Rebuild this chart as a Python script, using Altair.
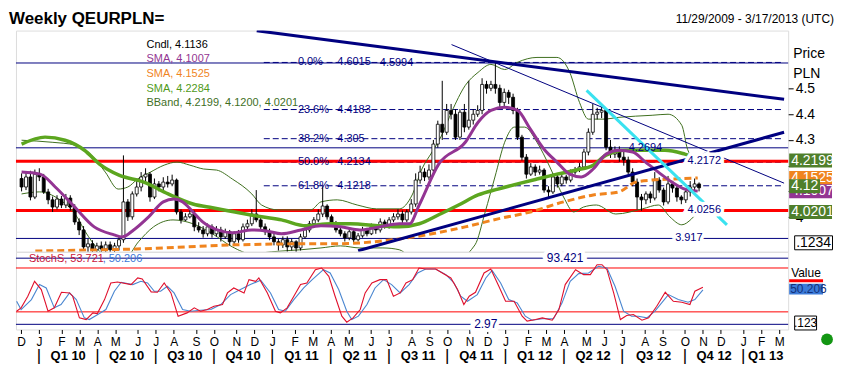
import altair as alt
import numpy as np
import pandas as pd

# ------------------------------------------------------------------ data
START = "2009-11-29"   # first weekly candle
END = "2013-03-17"

CLOSE = [4.117,4.156,4.078,4.167,4.156,4.098,4.067,4.039,4.070,4.047,
         4.074,4.039,3.981,3.950,3.884,3.896,3.873,3.888,3.876,3.892,
         3.873,3.888,3.912,4.059,4.001,4.090,4.117,4.156,4.167,4.078,
         4.129,4.117,4.136,4.129,4.144,4.020,3.989,4.001,4.012,3.962,
         3.950,3.935,3.962,3.935,3.950,3.923,3.943,3.904,3.935,3.912,
         3.962,3.974,4.012,3.989,3.962,3.943,3.923,3.904,3.892,3.912,
         3.884,3.904,3.880,3.923,3.950,3.974,3.989,4.012,4.043,4.001,
         3.974,3.950,3.935,3.919,3.943,3.912,3.927,3.950,3.935,3.962,
         3.950,3.981,3.966,3.989,4.001,4.012,3.989,4.020,4.051,4.144,
         4.175,4.156,4.183,4.284,4.361,4.330,4.415,4.400,4.311,4.408,
         4.350,4.377,4.400,4.415,4.516,4.501,4.516,4.501,4.446,4.485,
         4.466,4.415,4.311,4.233,4.167,4.195,4.175,4.183,4.105,4.098,
         4.156,4.129,4.156,4.144,4.175,4.183,4.195,4.253,4.330,4.400,
         4.408,4.415,4.272,4.245,4.260,4.233,4.222,4.175,4.136,4.078,
         4.067,4.090,4.074,4.144,4.105,4.059,4.129,4.113,4.078,4.067,
         4.098,4.117,4.129,4.114]
OPEN = [4.150,4.117,4.156,4.078,4.167,4.156,4.098,4.067,4.039,4.070,
        4.047,4.074,4.039,3.981,3.950,3.884,3.896,3.873,3.888,3.876,
        3.892,3.873,3.888,3.912,4.059,4.001,4.090,4.117,4.156,4.167,
        4.078,4.129,4.117,4.136,4.129,4.144,4.020,3.989,4.001,4.012,
        3.962,3.950,3.935,3.962,3.935,3.950,3.923,3.943,3.904,3.935,
        3.912,3.962,3.974,4.012,3.989,3.962,3.943,3.923,3.904,3.892,
        3.912,3.884,3.904,3.880,3.923,3.950,3.974,3.989,4.012,4.043,
        4.001,3.974,3.950,3.935,3.919,3.943,3.912,3.927,3.950,3.935,
        3.962,3.950,3.981,3.966,3.989,4.001,4.012,3.989,4.020,4.051,
        4.144,4.175,4.156,4.183,4.284,4.361,4.330,4.415,4.400,4.311,
        4.408,4.350,4.377,4.400,4.415,4.516,4.501,4.516,4.501,4.446,
        4.485,4.466,4.415,4.311,4.233,4.167,4.195,4.175,4.183,4.105,
        4.098,4.156,4.129,4.156,4.144,4.175,4.183,4.195,4.253,4.330,
        4.400,4.408,4.415,4.272,4.245,4.260,4.233,4.222,4.175,4.136,
        4.078,4.067,4.090,4.074,4.144,4.105,4.059,4.129,4.113,4.078,
        4.067,4.098,4.117,4.129]
HIGH = [4.170,4.175,4.180,4.185,4.190,4.168,4.110,4.080,4.085,4.082,
        4.090,4.085,4.050,3.995,3.965,3.915,3.910,3.900,3.905,3.905,
        3.905,3.900,3.925,4.240,4.070,4.100,4.150,4.175,4.190,4.175,
        4.150,4.140,4.155,4.160,4.165,4.150,4.030,4.015,4.030,4.025,
        3.980,3.965,3.975,3.972,3.965,3.962,3.955,3.950,3.945,3.950,
        3.975,3.990,4.030,4.105,4.000,3.975,3.955,3.935,3.915,3.925,
        3.925,3.915,3.910,3.935,3.960,3.985,4.000,4.030,4.120,4.050,
        4.010,3.985,3.962,3.945,3.955,3.950,3.938,3.962,3.958,3.975,
        3.972,3.995,3.990,4.000,4.015,4.030,4.025,4.030,4.070,4.170,
        4.200,4.190,4.205,4.300,4.375,4.530,4.440,4.440,4.420,4.420,
        4.440,4.530,4.420,4.435,4.540,4.530,4.530,4.605,4.515,4.500,
        4.495,4.480,4.425,4.320,4.245,4.210,4.205,4.200,4.190,4.120,
        4.170,4.165,4.170,4.165,4.185,4.195,4.210,4.265,4.345,4.440,
        4.425,4.430,4.420,4.300,4.275,4.275,4.255,4.235,4.190,4.150,
        4.090,4.100,4.100,4.175,4.155,4.115,4.160,4.140,4.125,4.085,
        4.110,4.140,4.150,4.135]
LOW = [4.100,4.105,4.065,4.070,4.140,4.090,4.050,4.020,4.030,4.035,
       4.035,4.025,3.970,3.930,3.870,3.860,3.850,3.845,3.840,3.845,
       3.835,3.840,3.870,3.900,3.985,3.990,4.080,4.100,4.140,4.060,
       4.070,4.100,4.105,4.115,4.120,4.010,3.975,3.985,3.995,3.945,
       3.940,3.920,3.925,3.920,3.925,3.905,3.915,3.890,3.895,3.900,
       3.905,3.950,3.965,3.980,3.950,3.930,3.910,3.890,3.870,3.880,
       3.865,3.870,3.860,3.870,3.915,3.940,3.960,3.980,4.000,3.990,
       3.965,3.940,3.925,3.905,3.910,3.900,3.905,3.920,3.925,3.930,
       3.935,3.940,3.955,3.955,3.980,3.990,3.975,3.980,4.010,4.040,
       4.130,4.140,4.145,4.175,4.270,4.300,4.320,4.380,4.300,4.300,
       4.330,4.340,4.360,4.390,4.400,4.480,4.490,4.480,4.420,4.430,
       4.440,4.400,4.300,4.220,4.150,4.160,4.160,4.165,4.095,4.070,
       4.090,4.115,4.120,4.130,4.135,4.165,4.175,4.185,4.240,4.320,
       4.380,4.385,4.260,4.230,4.230,4.215,4.200,4.165,4.120,4.030,
       4.025,4.050,4.055,4.065,4.095,4.045,4.050,4.095,4.060,4.050,
       4.055,4.080,4.100,4.100]

# indicator curves (week number, price)
SMA_PURPLE_W = [0,4.2,7.6,12,16.4,20.9,22.7,25.3,28.7,32,34.4,36.4,38.7,40.9,44.2,47.6,52,55.3,58.7,63.1,
                67.6,72,76.4,80.9,85.3,87.6,89.8,94.2,100.2,103.1,106,109.1,112,114.9,118,120.9,123.8,126.4,129.1,132,
                134.9,138,140.9,143.8,146.9,149.8,152.7]
SMA_PURPLE_P = [4.175,4.167,4.117,4.039,3.962,3.931,3.923,3.950,4.001,4.059,4.070,4.059,4.020,3.981,3.950,3.939,3.950,3.946,3.935,3.950,
                3.966,3.962,3.950,3.962,3.974,3.974,4.047,4.206,4.291,4.369,4.415,4.427,4.415,4.342,4.264,4.214,4.167,4.156,4.187,4.245,
                4.260,4.253,4.214,4.175,4.136,4.109,4.101]
SMA_GREEN_W = [0,5.3,9.8,14.2,17.6,22,27.6,33.1,38.7,43.1,48.2,54.2,58.7,64.2,69.8,74.2,80.9,85.3,89.8,94.2,
               98.7,103.1,107.6,112,116.4,120.9,125.3,129.1,132,136.4,140.9,145.3,149.8,152.7]
SMA_GREEN_P = [4.284,4.311,4.299,4.260,4.206,4.163,4.136,4.090,4.051,4.036,4.020,4.001,3.989,3.966,3.974,3.974,3.966,3.962,3.974,4.009,
               4.047,4.086,4.109,4.129,4.148,4.167,4.183,4.202,4.241,4.260,4.260,4.260,4.245,4.229]
SMA_ORANGE_W = [3.1,18.7,26,48.2,63.1,70.4,85.3,92.7,100.2,107.6,114.9,122.4,129.1,134.9,138.7,142.4,146.9,152.7]
SMA_ORANGE_P = [3.868,3.873,3.876,3.892,3.896,3.896,3.915,3.935,3.962,3.993,4.020,4.059,4.086,4.098,4.136,4.144,4.148,4.152]
BB_UP_W = [0,6.9,12.2,15.8,18.9,21.8,24,26.2,29.1,32.2,35.1,38,41.1,44,47.6,52,54.2,58,65.3,67.6,
           71.3,75.8,80.2,85.3,88.2,90.4,92.7,94.9,97.1,100.2,103.1,106,109.1,112,116.4,120.9,123.8,126,128,131.3,
           134.9,142.4,146,149.1,150.4,152.7]
BB_UP_P = [4.299,4.291,4.280,4.241,4.175,4.109,4.117,4.148,4.175,4.202,4.214,4.202,4.187,4.183,4.148,4.090,4.047,4.028,4.028,4.059,
           4.067,4.047,4.032,4.032,4.086,4.187,4.253,4.319,4.408,4.512,4.563,4.594,4.574,4.602,4.621,4.621,4.563,4.446,4.381,4.381,
           4.388,4.396,4.400,4.357,4.264,4.210]
BB_LO_W = [0,4,8.4,12.2,14.4,17.3,19.8,23.1,26.4,29.8,34.2,38.7,43.1,47.6,52,56.4,63.1,67.6,72,76.4,
           81.6,85.3,89.8,96.4,102.4,104.7,106.9,109.1,111.3,113.6,116.4,119.3,122.4,124.7,126.9,129.8,134.2,140.2,143.8,146.4,
           149.1,151.3,152.7]
BB_LO_P = [4.090,4.098,4.070,4.009,3.943,3.873,3.834,3.834,3.904,3.962,3.989,3.974,3.935,3.884,3.857,3.865,3.873,3.880,3.888,3.880,
           3.880,3.873,3.818,3.818,3.892,4.020,4.156,4.291,4.350,4.350,4.291,4.195,4.078,4.020,4.039,4.047,4.012,4.032,4.047,4.001,
           3.970,3.993,4.020]

# slow stochastic (week number, value)
STOCH_K_W = [0,1,2.5,4,5.5,7,8.4,10,11.8,12.5,14,15.5,17,18,19.6,21,22.5,25.5,27,28,
             30,31.4,32.9,34.4,36,38,39.6,41,42.5,44,45.9,47,48.4,50.7,51.8,53.3,54,55.9,57.7,58.8,
             60.3,61.8,63.3,64.7,66.6,68,69.6,71,72.5,73.6,75,76.6,77.7,79.2,81,82.5,84,85.5,86.8,88.3,
             89.7,91.2,93.4,94.9,96.8,98.3,99.7,100.9,102.3,104.2,105.7,107.5,109,110.9,112.7,113.8,115.7,117.2,119.4,120.9,
             122.3,124.6,126.4,127.9,129.4,130.5,131.6,133.1,134.6,136,137.5,139.4,140.9,142.7,144.6,146.4,148.3,150.1,151.2,153]
STOCH_K_V = [20.9,25.5,41.4,61.8,50.5,20.9,25.5,46.8,45.9,41.4,11.8,9.5,18.6,17.7,36.8,59.5,60.9,57.3,66.4,65,
             47.3,46.8,59.5,45.9,14.1,18.6,25.5,20.9,23.2,27.7,30,45.9,52.7,45.9,64.1,61.8,66.4,45.9,20.9,18.6,
             25.5,41.4,57.3,59.5,77.7,80,68.6,41.4,14.1,5.9,11.8,23.2,45.9,59.5,64.1,64.1,41.4,45.9,59.5,64.1,
             80,78.6,78.6,73.2,66.4,50.5,30,41.4,46.8,73.2,78.6,55,34.5,34.5,14.1,7.3,9.5,11.8,8.6,23.2,
             57.3,77.7,70.9,70.9,84.5,84.5,77.7,45.9,9.5,15,16.4,8.6,11.8,27.7,46.8,34.5,33.2,30,48.2,53.7]
STOCH_D_W = [0,1,3.3,5.1,6.6,8.4,9.9,11.8,13.3,15.1,16.2,18.1,19.9,21.8,23.3,25.9,27.7,29.2,30.7,32.1,
             33.6,35.1,37,38.8,41,43.3,45.5,47.7,49.9,52.1,54.4,56.6,58.4,59.9,61.8,64,65.9,68.4,69.9,71.8,
             73.6,74.7,76.2,78.1,79.9,81.8,83.6,85.5,87.5,89.4,91.2,93.4,95.7,97.5,99,100.5,102.7,104.6,106,107.9,
             109.7,111.6,113.4,114.9,117.2,119.7,121.6,123.4,125.3,127.5,129.7,131.6,133.4,135.3,137.1,138.6,140.5,142.3,145.3,147.5,
             149.7,151.2,153]
STOCH_D_V = [34.5,23.2,36.8,57.3,52.7,25.5,30,45.9,36.8,11.8,9.5,16.4,23.2,48.2,60.5,57.3,61.8,59.5,48.2,48.2,
             55,45.9,23.2,20.9,22.3,23.2,30,43.6,50.5,57.3,63.2,45.9,23.2,20.9,36.8,52.7,64.1,77.7,73.2,50.5,
             20.9,9.5,14.1,30,52.7,64.1,57.3,45.9,57.3,73.2,78.6,78.6,70.9,59.5,41.4,34.5,43.6,66.4,76.8,59.5,
             36.8,32.3,14.1,8.6,10.5,10.5,32.3,61.8,72.3,73.2,82.3,80,55,20.9,14.1,14.1,11.8,20.9,43.6,36.8,
             33.2,36.8,50.2]

# annotations
FIB_PCT = ["0.0%", "23.6%", "38.2%", "50.0%", "61.8%"]
FIB_LEVEL = [4.6015, 4.4183, 4.305, 4.2134, 4.1218]
FIB_START_W = 54.7
NAVY_LEVELS = [4.5994, 4.2694, 3.917]
RED_LEVELS = [4.2172, 4.0256]
STOCH_NAVY = [93.421, 2.97]
STOCH_RED = [80, 20]
TREND_W0 = [53.1, 97.1, 76.0, 127.6]
TREND_P0 = [4.725, 4.671, 3.869, 4.493]
TREND_W1 = [172.2, 172.2, 172.2, 159.3]
TREND_P1 = [4.458, 4.132, 4.330, 3.970]
LEGEND_TEXT = ["Cndl, 4.1136", "SMA, 4.1007", "SMA, 4.1525", "SMA, 4.2284",
               "BBand, 4.2199, 4.1200, 4.0201"]
QUARTERS = ["Q1 10", "Q2 10", "Q3 10", "Q4 10", "Q1 11", "Q2 11", "Q3 11",
            "Q4 11", "Q1 12", "Q2 12", "Q3 12", "Q4 12", "Q1 13"]

# ------------------------------------------------------------------ styles
FONT = "Liberation Sans"
NAVY = "#000080"
RED = "#ff0000"
PURPLE = "#933593"
GREEN = "#5ca61f"
ORANGE = "#f0841e"
BBC = "#3f6f1f"
CYAN = "#3ae2f0"
TAGGREEN = "#4f7f2b"
W, H1, H2 = 775, 222, 78

t0 = pd.Timestamp(START)


def wd(w):
    return t0 + pd.to_timedelta(np.asarray(w, dtype=float) * 7, unit="D")


xscale = alt.Scale(domain=[alt.DateTime(year=2009, month=11, date=28),
                           alt.DateTime(year=2013, month=3, date=17)])
yscale = alt.Scale(domain=[3.8651, 4.7255], zero=False, nice=False)
# 4.1 and 4.2 labels sit fully behind the value tags, so they are left blank
yaxis = alt.Axis(orient="right", values=[4.0, 4.1, 4.2, 4.3, 4.4, 4.5],
                 labelExpr="datum.value == 4 ? '4' : (datum.value > 4.25 ? format(datum.value, '.1f') : '')",
                 grid=False, domain=False, tickSize=5, tickColor="black",
                 labelColor="black", labelFontSize=14, labelFont=FONT,
                 labelPadding=2, title=None)


def X(f="date"):
    return alt.X(f"{f}:T", scale=xscale, axis=None)


def Y(f):
    return alt.Y(f"{f}:Q", scale=yscale, axis=yaxis)


def txt(t, x, y, **kw):
    kw.setdefault("font", FONT)
    return alt.Chart(pd.DataFrame({"t": [t]})).mark_text(**kw).encode(
        x=alt.value(x), y=alt.value(y), text="t:N")


def rect_path(w, h):
    r = h / w
    return f"M-1,-{r:.4f}L1,-{r:.4f}L1,{r:.4f}L-1,{r:.4f}Z"


def line(Wk, P, **kw):
    df = pd.DataFrame({"date": wd(Wk), "p": P})
    return alt.Chart(df).mark_line(clip=True, **kw).encode(x=X(), y=Y("p"))


cdf = pd.DataFrame({"date": wd(range(len(CLOSE))), "open": OPEN, "high": HIGH,
                    "low": LOW, "close": CLOSE})
end_ts = pd.Timestamp(END)

L = []
# horizontal levels
L.append(alt.Chart(pd.DataFrame({"p": NAVY_LEVELS})).mark_rule(color=NAVY, strokeWidth=1)
         .encode(y=Y("p")))
fib = pd.DataFrame({"p": FIB_LEVEL, "pct": FIB_PCT, "val": [str(v) for v in FIB_LEVEL],
                    "x0": wd([FIB_START_W] * 5), "x1": [end_ts] * 5,
                    "xp": wd([62.4] * 5), "xv": wd([71.3] * 5)})
L.append(alt.Chart(fib).mark_rule(color=NAVY, strokeWidth=1, strokeDash=[6, 3])
         .encode(x=X("x0"), x2="x1:T", y=Y("p")))
L.append(alt.Chart(pd.DataFrame({"p": RED_LEVELS})).mark_rule(color=RED, strokeWidth=3)
         .encode(y=Y("p")))
# bollinger
L.append(line(BB_UP_W, BB_UP_P, color=BBC, strokeWidth=1, interpolate="monotone"))
L.append(line(BB_LO_W, BB_LO_P, color=BBC, strokeWidth=1, interpolate="monotone"))
# candles
L.append(alt.Chart(cdf).mark_rule(color="black", strokeWidth=1, clip=True)
         .encode(x=X(), y=Y("low"), y2="high:Q"))
L.append(alt.Chart(cdf).mark_bar(size=3, stroke="black", strokeWidth=0.8, clip=True)
         .encode(x=X(), y=Y("open"), y2="close:Q",
                 fill=alt.condition("datum.close >= datum.open", alt.value("white"), alt.value("black"))))
# moving averages
L.append(line(SMA_ORANGE_W, SMA_ORANGE_P, color=ORANGE, strokeWidth=3, strokeDash=[7, 4], interpolate="monotone"))
L.append(line(SMA_GREEN_W, SMA_GREEN_P, color=GREEN, strokeWidth=3.5, interpolate="monotone"))
L.append(line(SMA_PURPLE_W, SMA_PURPLE_P, color=PURPLE, strokeWidth=3, interpolate="monotone"))
# trend lines
tstyle = [(NAVY, 3), (NAVY, 1), (NAVY, 3), (CYAN, 3)]
for i, (c, sw) in enumerate(tstyle):
    tdf = pd.DataFrame({"a": wd([TREND_W0[i]]), "b": wd([TREND_W1[i]]),
                        "p0": [TREND_P0[i]], "p1": [TREND_P1[i]]})
    L.append(alt.Chart(tdf).mark_rule(color=c, strokeWidth=sw, clip=True)
             .encode(x=X("a"), x2="b:T", y=Y("p0"), y2="p1:Q"))
# fib labels
L.append(alt.Chart(fib).mark_text(align="left", baseline="middle", fontSize=11, color=NAVY, font=FONT)
         .encode(x=X("xp"), y=Y("p"), text="pct:N"))
L.append(alt.Chart(fib).mark_text(align="left", baseline="middle", fontSize=11, color=NAVY, font=FONT)
         .encode(x=X("xv"), y=Y("p"), text="val:N"))
lab = pd.DataFrame({"t": ["4.5994", "4.2694"], "x": wd([80.9, 137.1]), "p": [4.5994, 4.2694]})
L.append(alt.Chart(lab).mark_text(align="left", baseline="middle", fontSize=11, color=NAVY, font=FONT)
         .encode(x=X("x"), y=Y("p"), text="t:N"))
halo = pd.DataFrame({"t": ["4.2172", "4.0256", "3.917"], "x": wd([150.4, 150.4, 147.6]),
                     "p": [4.2172, 4.0256, 3.917]})
L.append(alt.Chart(halo).mark_text(align="left", baseline="middle", fontSize=11, color="white",
                                   stroke="white", strokeWidth=7, font=FONT)
         .encode(x=X("x"), y=Y("p"), text="t:N"))
L.append(alt.Chart(halo).mark_text(align="left", baseline="middle", fontSize=11, color=NAVY, font=FONT)
         .encode(x=X("x"), y=Y("p"), text="t:N"))
# legend
lcol = ["black", PURPLE, ORANGE, "#4f9a1a", BBC]
for i, (t, c) in enumerate(zip(LEGEND_TEXT, lcol)):
    L.append(txt(t, 131, 14 + 14.8 * i, align="left", baseline="middle", fontSize=11, color=c))
# title / subtitle / axis title
L.append(txt("Weekly QEURPLN=", -7, -7, align="left", baseline="alphabetic", fontSize=17,
             fontWeight="bold", color="black"))
L.append(txt("11/29/2009 - 3/17/2013 (UTC)", 821, -12, align="right", baseline="middle",
             fontSize=12, color="black"))
L.append(txt("Price", 780, 24, align="left", baseline="middle", fontSize=14, color="black"))
L.append(txt("PLN", 780, 44, align="left", baseline="middle", fontSize=14, color="black"))
# value tags on the right
tags = [(4.1525, "4.1525", ORANGE, 43, 797.5), (4.1007, "4.1007", PURPLE, 43, 797.5),
        (4.1200, "4.12", TAGGREEN, 31, 791.5), (4.2199, "4.2199", TAGGREEN, 43, 797.5),
        (4.0201, "4.0201", TAGGREEN, 43, 797.5)]
for v, t, c, w, cx in tags:
    d = pd.DataFrame({"p": [v], "t": [t]})
    L.append(alt.Chart(d).mark_point(shape=rect_path(w, 14), size=w * w, filled=True,
                                     fill=c, opacity=1, strokeWidth=0)
             .encode(x=alt.value(cx), y=Y("p")))
    L.append(alt.Chart(d).mark_text(align="left", baseline="middle", fontSize=14, color="white", font=FONT)
             .encode(x=alt.value(778), y=Y("p"), text="t:N"))
L.append(alt.Chart(pd.DataFrame({"t": [".1234"]})).mark_point(
    shape=rect_path(38, 14), size=38 * 38, fill="white", stroke="black", strokeWidth=1, opacity=1)
    .encode(x=alt.value(800.5), y=alt.value(213)))
L.append(txt(".1234", 783, 213, align="left", baseline="middle", fontSize=14, color="black"))

main = alt.layer(*L).properties(width=W, height=H1)

# ------------------------------------------------------------------ stochastic panel
ys = alt.Scale(domain=[-4.1, 102.2], zero=False, nice=False)
weeks = pd.date_range(START, END, freq="W-SUN")
first_sun = weeks.to_series().groupby([weeks.year, weeks.month]).min().tolist()
first_sun = [d for d in first_sun if d >= pd.Timestamp("2009-12-01")]
month_vals = [alt.DateTime(year=d.year, month=d.month, date=d.day) for d in first_sun]
xaxis2 = alt.Axis(values=month_vals, labelExpr="substring(timeFormat(datum.value, '%b'), 0, 1)",
                  tickSize=4, tickColor="black", labelFontSize=12, labelFont=FONT,
                  labelColor="black", domain=False, grid=False, title=None,
                  labelPadding=3, labelFlush=False, labelOverlap=False)


def XS(f="date"):
    return alt.X(f"{f}:T", scale=xscale, axis=xaxis2)


def YS(f):
    return alt.Y(f"{f}:Q", scale=ys, axis=None)


S = []
S.append(alt.Chart(pd.DataFrame({"v": STOCH_NAVY})).mark_rule(color=NAVY, strokeWidth=1).encode(y=YS("v")))
S.append(alt.Chart(pd.DataFrame({"v": STOCH_RED})).mark_rule(color=RED, strokeWidth=1).encode(y=YS("v")))
sh = pd.DataFrame({"t": ["93.421", "2.97"], "x": wd([118.2, 102]), "v": STOCH_NAVY})
S.append(alt.Chart(sh).mark_text(align="left", baseline="middle", fontSize=12, color="white",
                                 stroke="white", strokeWidth=8, font=FONT)
         .encode(x=XS("x"), y=YS("v"), text="t:N"))
S.append(alt.Chart(sh).mark_text(align="left", baseline="middle", fontSize=12, color=NAVY, font=FONT)
         .encode(x=XS("x"), y=YS("v"), text="t:N"))
S.append(alt.Chart(pd.DataFrame({"date": wd(STOCH_D_W), "v": STOCH_D_V}))
         .mark_line(color="#4a86d0", strokeWidth=1.1, clip=True).encode(x=XS(), y=YS("v")))
S.append(alt.Chart(pd.DataFrame({"date": wd(STOCH_K_W), "v": STOCH_K_V}))
         .mark_line(color="#e0102c", strokeWidth=1.1, clip=True).encode(x=XS(), y=YS("v")))
S.append(txt("StochS, 53.721", 13, 7, align="left", baseline="middle", fontSize=11, color="#c8143c"))
S.append(txt(", 50.206", 87, 7, align="left", baseline="middle", fontSize=11, color="#3c78d8"))
# quarter row
qstarts = [d for d in first_sun if d.month in (1, 4, 7, 10)]
qends = qstarts[1:] + [end_ts]
qdf = pd.DataFrame({"q": QUARTERS, "mid": [a + (b - a) / 2 for a, b in zip(qstarts, qends)]})
sdf = pd.DataFrame({"s": ["|"] * len(qstarts), "d": qstarts})
S.append(alt.Chart(qdf).mark_text(fontSize=13, fontWeight="bold", font=FONT, color="black", baseline="middle")
         .encode(x=XS("mid"), y=alt.value(H2 + 27), text="q:N"))
S.append(alt.Chart(sdf).mark_text(fontSize=17, font=FONT, color="black", baseline="middle")
         .encode(x=XS("d"), y=alt.value(H2 + 27), text="s:N"))
# right-side value box
S.append(txt("Value", 778, 21, align="left", baseline="middle", fontSize=12, color="black"))
S.append(alt.Chart(pd.DataFrame({"t": ["r"]})).mark_point(
    shape=rect_path(34, 3), size=34 * 34, filled=True, fill=RED, opacity=1, strokeWidth=0)
    .encode(x=alt.value(793), y=alt.value(29)))
S.append(alt.Chart(pd.DataFrame({"t": ["b"]})).mark_point(
    shape=rect_path(34, 11), size=34 * 34, filled=True, fill="#3c7bd8", opacity=1, strokeWidth=0)
    .encode(x=alt.value(793), y=alt.value(37.5)))
S.append(txt("50.206", 777, 37.5, align="left", baseline="middle", fontSize=12, color="#12307a"))
S.append(alt.Chart(pd.DataFrame({"t": ["c"]})).mark_point(
    shape=rect_path(22, 14), size=22 * 22, fill="white", stroke="black", strokeWidth=1, opacity=1)
    .encode(x=alt.value(792.5), y=alt.value(71.5)))
S.append(txt(".123", 792.5, 71.5, align="center", baseline="middle", fontSize=12, color="black"))
S.append(alt.Chart(pd.DataFrame({"t": ["g"]})).mark_point(
    shape="circle", size=140, filled=True, fill="#139613", opacity=1, strokeWidth=0)
    .encode(x=alt.value(814), y=alt.value(88)))

stoch = alt.layer(*S).properties(width=W, height=H2)

chart = (alt.vconcat(main, stoch, spacing=0, bounds="flush")
         .properties(padding={"left": 0, "top": 0, "right": 0, "bottom": 0}, background="white")
         .configure_view(stroke="#8c8c8c")
         .configure(font=FONT))

chart.save("out.html", embed_options={"renderer": "svg", "actions": False})
